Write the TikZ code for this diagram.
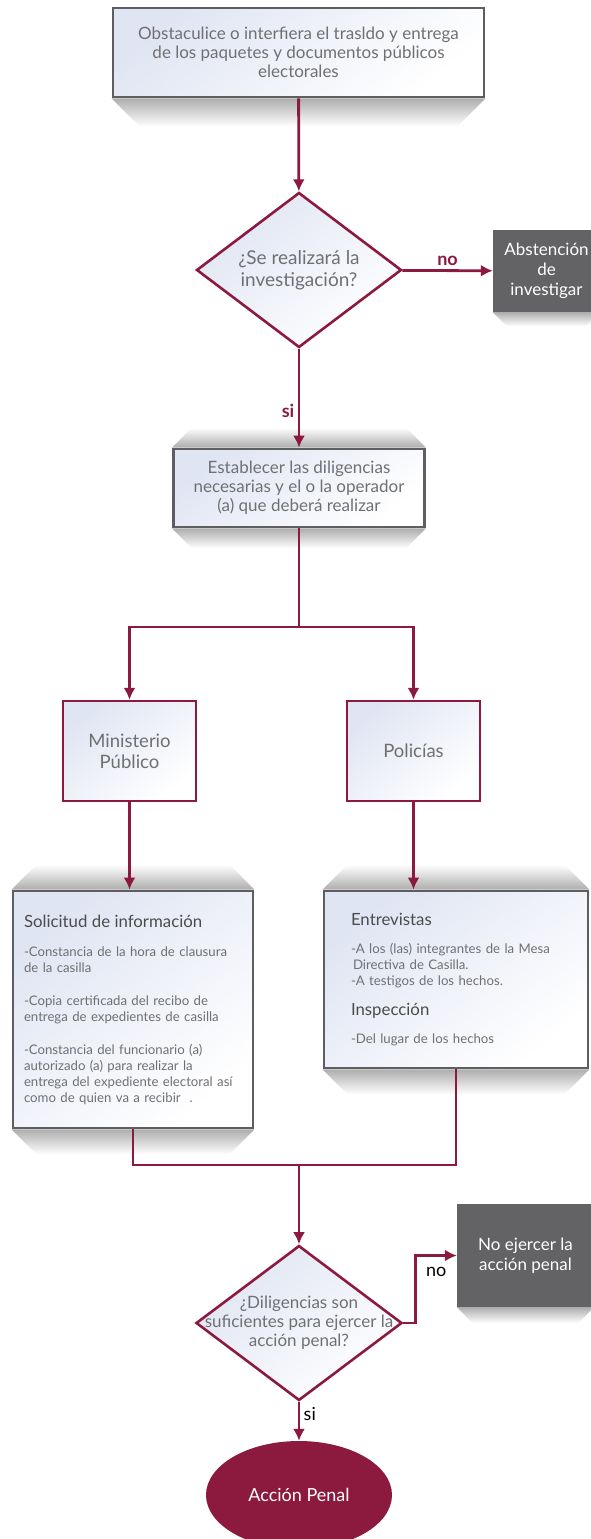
\documentclass[tikz,border=0pt]{standalone}
\usepackage{fontspec}
\setmainfont{Lato}
\usepackage{xcolor}
\usepackage{tikz}
\usetikzlibrary{calc, shapes.geometric, arrows.meta}
\tikzset{>={Latex[length=12pt,width=12pt]}}

\definecolor{vino}{HTML}{8B1A3E}
\definecolor{grisosc}{HTML}{636366}
\definecolor{grisborde}{HTML}{5E5E60}
\definecolor{gristexto}{HTML}{707073}
\definecolor{azulclaro}{HTML}{E0E5F3}

\tikzset{
  flecha/.style={->, draw=vino, line width=2.8pt},
  linea/.style={draw=vino, line width=2.8pt},
  caja/.style={rectangle, draw=grisborde, line width=2.8pt, top color=azulclaro, middle color=white, bottom color=white, shading angle=40, text=gristexto, align=center, inner sep=0pt},
  cajavino/.style={caja, draw=vino, line width=2.4pt},
  decision/.style={diamond, draw=vino, line width=2.6pt, top color=azulclaro, middle color=white, bottom color=white, shading angle=40, inner sep=0pt},
  cajagris/.style={rectangle, fill=grisosc, text=white, align=center, inner sep=0pt},
  etiq/.style={text=vino, font=\bfseries\fontsize{18}{20}\selectfont},
  etiqneg/.style={text=black, font=\fontsize{18}{20}\selectfont},
}

% shadow under / over a box
\newcommand{\sombraabajo}[2]{\shade[top color=black!32, bottom color=white] (#1.south west) -- (#1.south east) -- ($(#1.south east)+(-#2,#2)$) -- ($(#1.south west)+(#2,#2)$) -- cycle;}
\newcommand{\sombraarriba}[2]{\shade[top color=white, bottom color=black!32] (#1.north west) -- (#1.north east) -- ($(#1.north east)+(-#2,-#2)$) -- ($(#1.north west)+(#2,-#2)$) -- cycle;}

\begin{document}
\begin{tikzpicture}[x=1pt, y=-1pt]
    \clip (0,0) rectangle (591,1539);

    % Coordinates
    \coordinate (split) at (299,627);
    \coordinate (merge) at (299,1165);

    % Start
    \node[caja, minimum width=371pt, minimum height=89pt, font=\fontsize{17}{19}\selectfont] (obst) at (298.5,52.5) {Obstaculice o interfiera el trasldo y entrega\\ de los paquetes y documentos públicos\\ electorales};

    % First question
    \node[decision, minimum width=205pt, minimum height=155pt] (q1) at (299,270) {};
    \node[text=gristexto, align=center, font=\fontsize{19}{22}\selectfont] (q1txt) at (q1) {¿Se realizará la\\ investigación?};
    \node[cajagris, minimum width=107pt, minimum height=82pt, font=\fontsize{17}{20}\selectfont] (absten) at (546.5,271) {Abstención\\ de\\ investigar};

    % Diligencias
    \node[caja, minimum width=251pt, minimum height=78pt, font=\fontsize{17}{19}\selectfont] (establ) at (299,488) {Establecer las diligencias\\ necesarias y el o la operador\\ (a) que deberá realizar};

    % Two branches
    \node[cajavino, minimum width=133pt, minimum height=100pt, font=\fontsize{18.5}{21}\selectfont] (mp) at (129.5,751) {Ministerio\\ Público};
    \node[cajavino, minimum width=133pt, minimum height=100pt, font=\fontsize{18.5}{21}\selectfont] (pol) at (413.5,751) {Policías};

    % Text boxes
    \node[caja, minimum width=240pt, minimum height=237pt, text width=218pt, align=left, font=\fontsize{13.2}{16}\selectfont] (solic) at (133,1009.5) {{\color{black!70}\fontsize{16.8}{20}\selectfont Solicitud de información}\\[13pt]
      -Constancia de la hora de clausura\\ de la casilla\\[17pt]
      -Copia certificada del recibo de\\ entrega de expedientes de casilla\\[17pt]
      -Constancia del funcionario (a)\\ autorizado (a) para realizar la\\ entrega del expediente electoral así\\ como de quien va a recibir\ \ .};
    \node[caja, minimum width=264pt, minimum height=177pt, text width=210pt, align=left, font=\fontsize{13.2}{16}\selectfont] (entre) at (456,979.5) {{\color{black!70}\fontsize{16.8}{20}\selectfont Entrevistas}\\[12pt]
      -A los (las) integrantes de la Mesa\\ \hspace{2pt}Directiva de Casilla.\\ -A testigos de los hechos.\\[14pt]
      {\color{black!70}\fontsize{16.8}{20}\selectfont Inspección}\\[12pt]
      -Del lugar de los hechos};

    % Second question
    \node[decision, minimum width=206pt, minimum height=155pt] (q2) at (299,1323) {};
    \node[text=gristexto, align=center, font=\fontsize{17}{19}\selectfont] (q2txt) at (q2) {¿Diligencias son\\ suficientes para ejercer la\\ acción penal?};
    \node[cajagris, minimum width=137pt, minimum height=103pt, font=\fontsize{17}{20}\selectfont] (noejer) at (525.5,1255.5) {No ejercer la\\ acción penal};

    % End
    \node[ellipse, fill=vino, text=white, minimum width=186pt, minimum height=108pt, font=\fontsize{18}{21}\selectfont] (accion) at (299,1495) {Acción Penal};

    % Shadows
    \sombraabajo{obst}{28}
    \sombraabajo{absten}{14}
    \sombraarriba{establ}{20}
    \sombraabajo{establ}{20}
    \sombraarriba{solic}{25}
    \sombraabajo{solic}{25}
    \sombraarriba{entre}{25}
    \sombraabajo{entre}{25}
    \sombraabajo{noejer}{16}

    % Lines
    \draw[flecha] (obst) -- (q1);
    \draw[flecha] (q1) -- (absten) node[midway, above, etiq] (lblno) {no};
    \draw[flecha] (q1) -- (establ) node[pos=0.63, left, etiq] (lblsi) {si};
    \draw[linea] (establ) -- (split);
    \draw[flecha] (split) -| (mp);
    \draw[flecha] (split) -| (pol);
    \draw[flecha] (mp.south) -- (mp.south |- solic.north);
    \draw[flecha] (pol.south) -- (pol.south |- entre.north);
    \draw[linea] (solic.south) |- (merge);
    \draw[linea] (entre.south) |- (merge);
    \draw[flecha] (merge) -- (q2);
    \draw[flecha] (q2.east) -- ++(12,0) |- (noejer.west) node[pos=0.38, right, etiqneg, xshift=6pt] (lblno2) {no};
    \draw[flecha] (q2) -- (accion) node[pos=0.3, right, etiqneg] (lblsi2) {si};
\end{tikzpicture}
\end{document}
